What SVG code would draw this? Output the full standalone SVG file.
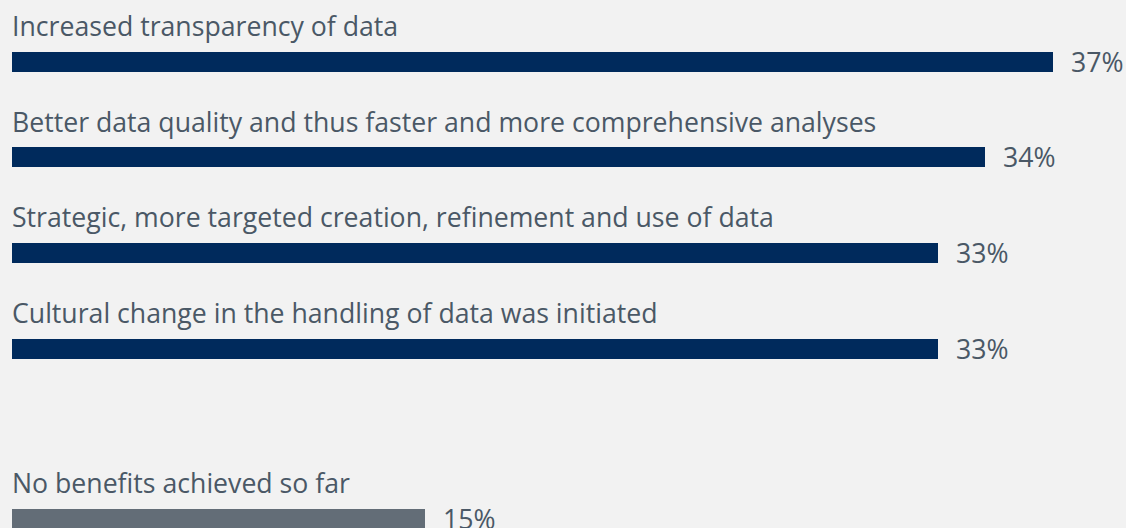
<svg xmlns="http://www.w3.org/2000/svg" width="1126" height="528" viewBox="0 0 1126 528">
<style>
.lbl{font-family:"Open Sans","Liberation Sans",sans-serif;font-size:26.67px;fill:#4a5866}
.bar{fill:#002a5c}
.bar2{fill:#636d77}
</style>
<rect width="1126" height="528" fill="#f2f2f2"/>
<g id="row1">
<text class="lbl" x="12" y="36">Increased transparency of data</text>
<rect class="bar" x="12" y="52" width="1041" height="20"/>
<text class="lbl" x="1071" y="72">37%</text>
</g>
<g id="row2">
<text class="lbl" x="12" y="132">Better data quality and thus faster and more comprehensive analyses</text>
<rect class="bar" x="12" y="147" width="973" height="20"/>
<text class="lbl" x="1003" y="167">34%</text>
</g>
<g id="row3">
<text class="lbl" x="12" y="227">Strategic, more targeted creation, refinement and use of data</text>
<rect class="bar" x="12" y="243" width="926" height="20"/>
<text class="lbl" x="956" y="263">33%</text>
</g>
<g id="row4">
<text class="lbl" x="12" y="323">Cultural change in the handling of data was initiated</text>
<rect class="bar" x="12" y="339" width="926" height="20"/>
<text class="lbl" x="956" y="359">33%</text>
</g>
<g id="row5">
<text class="lbl" x="12" y="493">No benefits achieved so far</text>
<rect class="bar2" x="12" y="509" width="413" height="20"/>
<text class="lbl" x="443" y="529">15%</text>
</g>
<g id="connectors"/>
</svg>
